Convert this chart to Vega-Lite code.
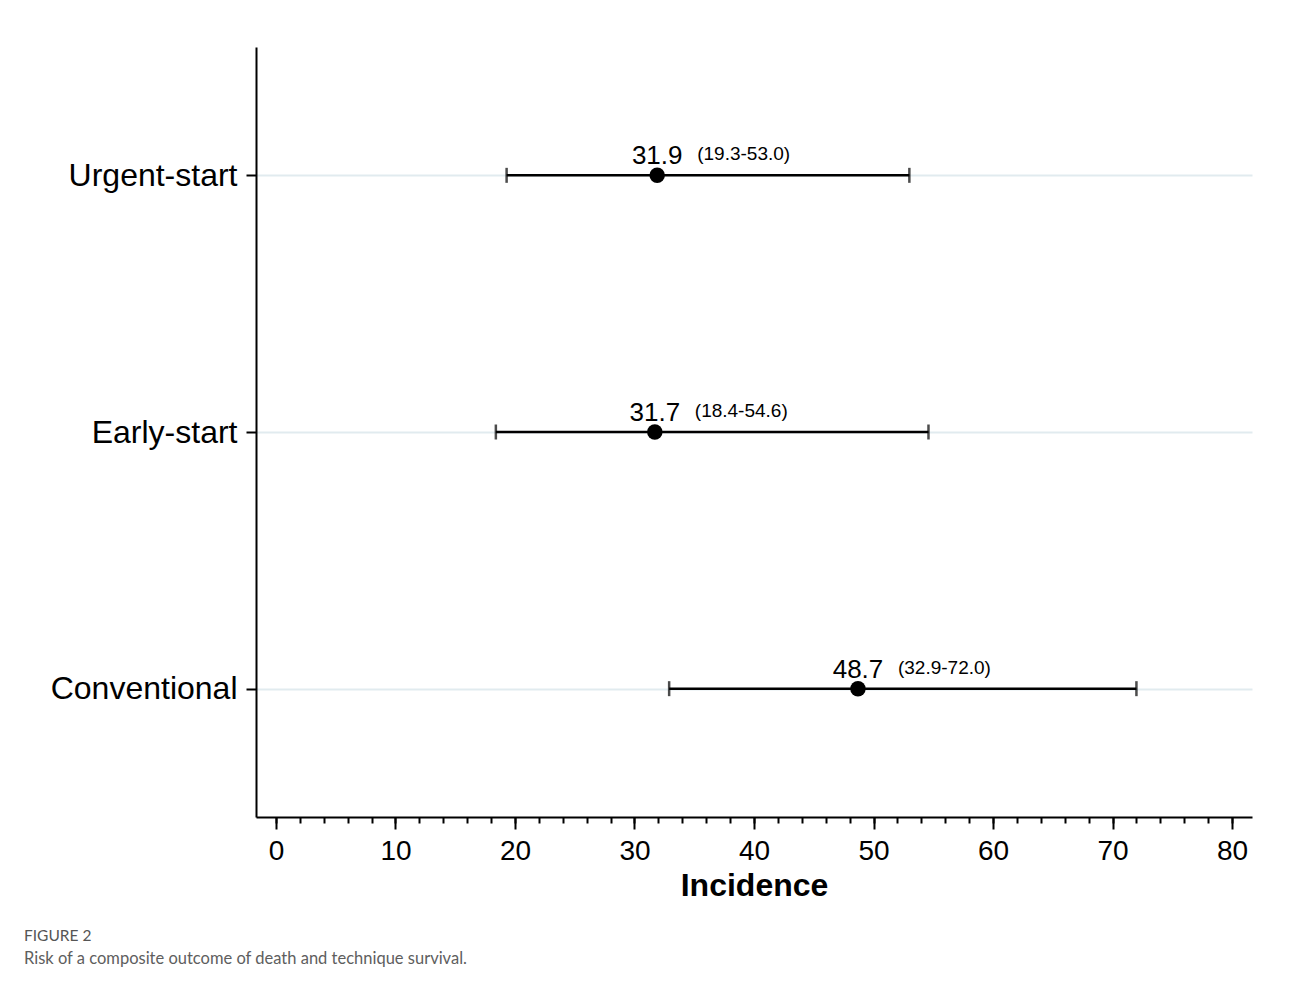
{
  "$schema": "https://vega.github.io/schema/vega-lite/v6.json",
  "width": 996,
  "height": 770,
  "autosize": {"type": "none"},
  "padding": {"left": 256, "top": 47, "right": 38, "bottom": 175},
  "background": "white",
  "config": {
    "view": {"stroke": null},
    "font": "Liberation Sans"
  },
  "title": {
    "text": "FIGURE 2",
    "subtitle": "Risk of a composite outcome of death and technique survival.",
    "orient": "bottom",
    "anchor": "start",
    "frame": "group",
    "dx": -232,
    "offset": 28,
    "font": "Lato",
    "fontSize": 15.5,
    "fontWeight": "normal",
    "color": "#555555",
    "subtitleFont": "Lato",
    "subtitleFontSize": 16.5,
    "subtitleColor": "#5e5e5e",
    "subtitlePadding": 6
  },
  "data": {
    "values": [
      {"group": "Urgent-start", "est": 31.9, "lo": 19.3, "hi": 53.0, "estLabel": "31.9", "ciLabel": "(19.3-53.0)"},
      {"group": "Early-start", "est": 31.7, "lo": 18.4, "hi": 54.6, "estLabel": "31.7", "ciLabel": "(18.4-54.6)"},
      {"group": "Conventional", "est": 48.7, "lo": 32.9, "hi": 72.0, "estLabel": "48.7", "ciLabel": "(32.9-72.0)"}
    ]
  },
  "resolve": {"axis": {"x": "independent"}},
  "layer": [
    {
      "mark": {"type": "rule", "color": "black", "strokeWidth": 2.5},
      "encoding": {
        "x": {
          "field": "lo", "type": "quantitative",
          "scale": {"domain": [-1.67, 81.67], "nice": false, "zero": false},
          "axis": {
            "orient": "bottom",
            "values": [0, 10, 20, 30, 40, 50, 60, 70, 80],
            "title": "Incidence",
            "titleFont": "Liberation Sans",
            "titleFontSize": 32,
            "titleFontWeight": "bold",
            "titleColor": "black",
            "titlePadding": 5,
            "labelFontSize": 28,
            "labelColor": "black",
            "labelPadding": 8,
            "tickSize": 12,
            "tickWidth": 2,
            "tickColor": "black",
            "domainColor": "black",
            "domainWidth": 2,
            "grid": false
          }
        },
        "x2": {"field": "hi"},
        "y": {
          "field": "group", "type": "nominal",
          "sort": ["Urgent-start", "Early-start", "Conventional"],
          "scale": {"type": "point", "padding": 0.5},
          "axis": {
            "title": null,
            "labelFontSize": 32,
            "labelColor": "black",
            "labelPadding": 9,
            "labelLimit": 400,
            "tickSize": 10,
            "tickWidth": 2,
            "tickColor": "black",
            "domainColor": "black",
            "domainWidth": 2,
            "grid": true,
            "gridColor": "#e1ebef",
            "gridWidth": 2
          }
        }
      }
    },
    {
      "mark": {"type": "tick", "color": "black", "thickness": 2.5, "size": 15, "orient": "vertical"},
      "encoding": {
        "x": {
          "field": "lo", "type": "quantitative",
          "axis": {
            "orient": "bottom",
            "values": [0, 2, 4, 6, 8, 10, 12, 14, 16, 18, 20, 22, 24, 26, 28, 30, 32, 34, 36, 38, 40, 42, 44, 46, 48, 50, 52, 54, 56, 58, 60, 62, 64, 66, 68, 70, 72, 74, 76, 78, 80],
            "labels": false,
            "title": null,
            "domain": false,
            "grid": false,
            "tickSize": 6,
            "tickWidth": 2,
            "tickColor": "black"
          }
        },
        "y": {"field": "group", "type": "nominal", "sort": ["Urgent-start", "Early-start", "Conventional"]}
      }
    },
    {
      "mark": {"type": "tick", "color": "black", "thickness": 2.5, "size": 15, "orient": "vertical"},
      "encoding": {
        "x": {"field": "hi", "type": "quantitative", "axis": null},
        "y": {"field": "group", "type": "nominal", "sort": ["Urgent-start", "Early-start", "Conventional"]}
      }
    },
    {
      "mark": {"type": "point", "filled": true, "color": "black", "opacity": 1, "size": 240},
      "encoding": {
        "x": {"field": "est", "type": "quantitative", "axis": null},
        "y": {"field": "group", "type": "nominal", "sort": ["Urgent-start", "Early-start", "Conventional"]}
      }
    },
    {
      "mark": {"type": "text", "color": "black", "fontSize": 26, "align": "center", "baseline": "alphabetic", "dy": -11},
      "encoding": {
        "x": {"field": "est", "type": "quantitative", "axis": null},
        "y": {"field": "group", "type": "nominal", "sort": ["Urgent-start", "Early-start", "Conventional"]},
        "text": {"field": "estLabel"}
      }
    },
    {
      "mark": {"type": "text", "color": "black", "fontSize": 19, "align": "left", "baseline": "alphabetic", "dx": 40, "dy": -15},
      "encoding": {
        "x": {"field": "est", "type": "quantitative", "axis": null},
        "y": {"field": "group", "type": "nominal", "sort": ["Urgent-start", "Early-start", "Conventional"]},
        "text": {"field": "ciLabel"}
      }
    }
  ]
}
